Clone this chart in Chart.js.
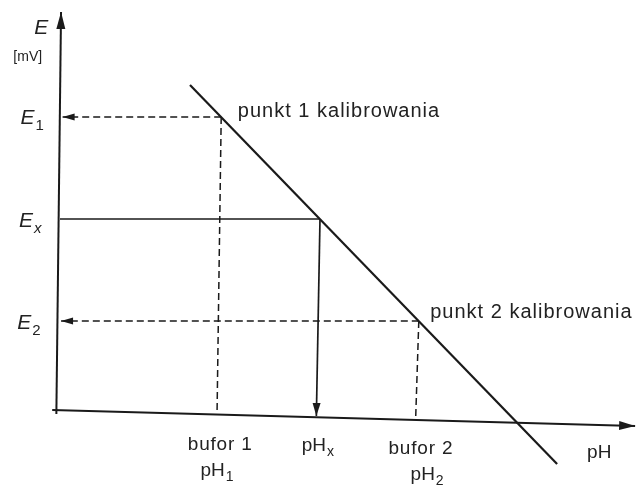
<!DOCTYPE html>
<html><head><meta charset="utf-8">
<script src="https://cdn.jsdelivr.net/npm/chart.js@4/dist/chart.umd.min.js"></script>
<style>html,body{margin:0;padding:0;background:#fff}</style>
</head><body>
<canvas id="c" width="639" height="485"></canvas>
<script>
// ---- values (pH units, mV) ----
const pH1 = 3.1, pHx = 5.0, pH2 = 6.9;          // bufor 1, sample, bufor 2
const E1 = 296, Ex = 194, E2 = 92;              // potentials
const calibLine = [[2.5, 328], [9.56, -51]];    // E = f(pH) calibration line
const xAxisLine = [[-0.15, 3], [11.06, -13]];   // scanned x axis (slightly tilted)
const yAxisLine = [[-0.07, -1], [0.02, 401]];   // scanned y axis
const axisEnd = {pH1: -1, pHx: -3, pH2: -5};    // where verticals meet the x axis
const leftEnd = 0.05;                           // arrow tips at the E axis

// ---- text labels ----
const labels = [
  {t:'E', x:-0.36, y:379, size:21, italic:true, align:'center'},
  {t:'[mV]', x:-0.62, y:352, size:14, align:'center'},
  {t:'E', sub:'1', x:-0.76, y:289, size:21, italic:true, align:'left'},
  {t:'E', sub:'x', subItalic:true, x:-0.79, y:186, size:21, italic:true, align:'left'},
  {t:'E', sub:'2', x:-0.82, y:84, size:21, italic:true, align:'left'},
  {t:'punkt 1 kalibrowania', x:3.42, y:296, size:20, align:'left', ls:1},
  {t:'punkt 2 kalibrowania', x:7.12, y:95, size:20, align:'left', ls:1},
  {t:'bufor 1', x:3.08, y:-37, size:19, align:'center', ls:0.8},
  {t:'pH', sub:'1', x:3.02, y:-63, size:19, align:'center'},
  {t:'pH', sub:'x', x:4.96, y:-38, size:19, align:'center'},
  {t:'bufor 2', x:6.94, y:-41, size:19, align:'center', ls:0.8},
  {t:'pH', sub:'2', x:7.06, y:-67, size:19, align:'center'},
  {t:'pH', x:10.37, y:-45, size:19, align:'center'}
];

const INK = '#1a1a1a', TXT = '#222222', FONT = "'Liberation Sans', Arial, sans-serif";
const pts = a => a.map(p => ({x:p[0], y:p[1]}));
function seg(data, opts) {
  return Object.assign({data: pts(data), showLine:true, pointRadius:0, borderColor:INK,
    backgroundColor:INK, borderWidth:1.6, clip:false, tension:0}, opts);
}

const datasets = [
  seg(xAxisLine, {borderWidth:2, arrow:{len:16, half:4.5}}),
  seg(yAxisLine, {borderWidth:2, arrow:{len:17, half:4.5}}),
  seg(calibLine, {borderWidth:2.2}),
  seg([[pH1, E1], [leftEnd, E1]], {borderDash:[7,4], borderWidth:1.5, arrow:{len:12, half:3.5}}),
  seg([[pH1, E1], [pH1 - 0.08, axisEnd.pH1]], {borderDash:[7,4], borderWidth:1.5}),
  seg([[0, Ex], [pHx, Ex]], {borderWidth:1.7}),
  seg([[pHx, Ex], [pHx - 0.07, axisEnd.pHx]], {borderWidth:1.7, arrow:{len:13, half:4}}),
  seg([[pH2, E2], [leftEnd - 0.03, E2]], {borderDash:[7,4], borderWidth:1.5, arrow:{len:12, half:3.5}}),
  seg([[pH2, E2], [pH2 - 0.06, axisEnd.pH2]], {borderDash:[7,4], borderWidth:1.5})
];

const arrowPlugin = {
  id:'arrows',
  afterDatasetsDraw(chart) {
    const ctx = chart.ctx;
    chart.data.datasets.forEach((ds, i) => {
      if (!ds.arrow) return;
      const m = chart.getDatasetMeta(i).data;
      const a = m[m.length - 2], b = m[m.length - 1];
      const ang = Math.atan2(b.y - a.y, b.x - a.x);
      const {len, half} = ds.arrow;
      ctx.save();
      ctx.translate(b.x, b.y); ctx.rotate(ang);
      ctx.fillStyle = INK;
      ctx.beginPath();
      ctx.moveTo(0, 0); ctx.lineTo(-len, -half); ctx.lineTo(-len, half); ctx.closePath();
      ctx.fill();
      ctx.restore();
    });
  }
};

const textPlugin = {
  id:'texts',
  afterDraw(chart) {
    const ctx = chart.ctx, xs = chart.scales.x, ys = chart.scales.y;
    labels.forEach(l => {
      const px = xs.getPixelForValue(l.x), py = ys.getPixelForValue(l.y);
      ctx.save();
      ctx.fillStyle = TXT;
      ctx.textBaseline = 'alphabetic';
      ctx.letterSpacing = (l.ls || 0) + 'px';
      const mainFont = (l.italic ? 'italic ' : '') + l.size + 'px ' + FONT;
      const subSize = Math.round(l.size * 0.72);
      const subFont = (l.subItalic ? 'italic ' : '') + subSize + 'px ' + FONT;
      ctx.font = mainFont;
      const w1 = ctx.measureText(l.t).width;
      let w2 = 0;
      if (l.sub) { ctx.font = subFont; w2 = ctx.measureText(l.sub).width + 1; }
      const total = w1 + w2;
      let x0 = l.align === 'center' ? px - total / 2 : px;
      ctx.textAlign = 'left';
      ctx.font = mainFont;
      ctx.fillText(l.t, x0, py);
      if (l.sub) {
        ctx.font = subFont;
        ctx.fillText(l.sub, x0 + w1 + 1, py + l.size * 0.28);
      }
      ctx.restore();
    });
  }
};

new Chart(document.getElementById('c'), {
  type:'scatter',
  data:{datasets},
  options:{
    responsive:false, animation:false,
    layout:{padding:0},
    plugins:{legend:{display:false}, tooltip:{enabled:false}},
    scales:{
      x:{type:'linear', display:false, min:-60/52, max:(639-60)/52},
      y:{type:'linear', display:false, min:-72, max:413}
    }
  },
  plugins:[arrowPlugin, textPlugin]
});
</script>
</body></html>
